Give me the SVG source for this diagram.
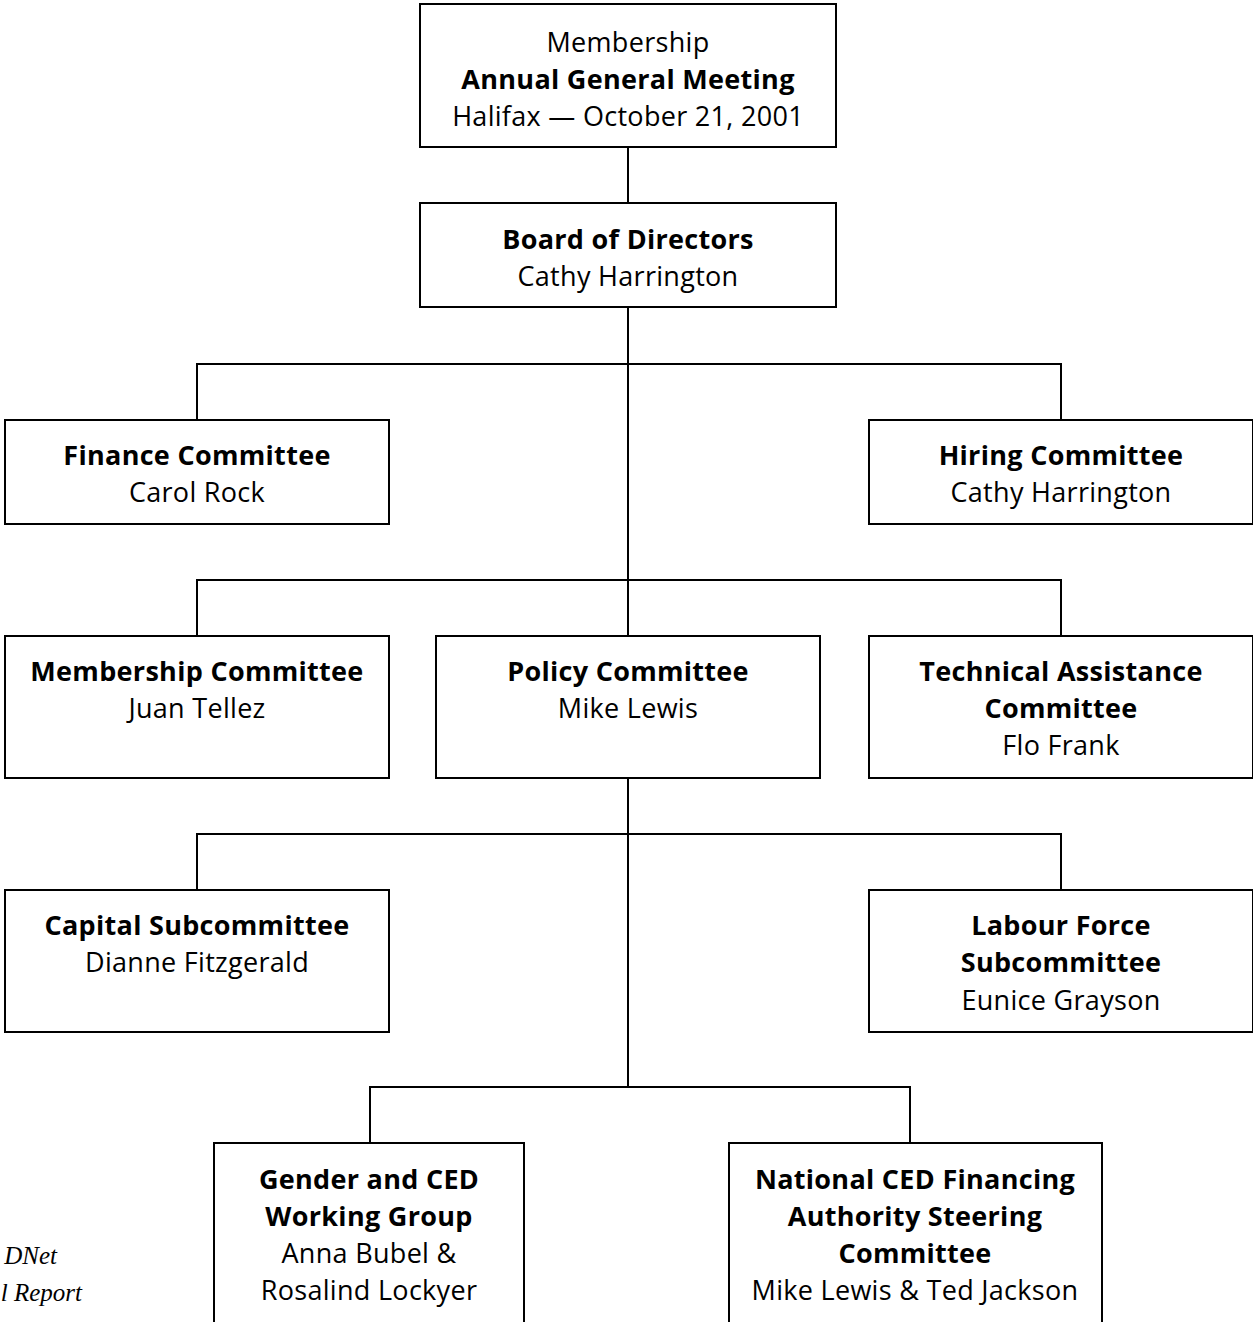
<svg xmlns="http://www.w3.org/2000/svg" width="1253" height="1322" viewBox="0 0 1253 1322">
<style>
.box{fill:#fff;stroke:#000;stroke-width:2}
.ln{stroke:#000;stroke-width:2;fill:none}
text{font-family:"Open Sans","Noto Sans",sans-serif;font-size:27px;letter-spacing:0.3px;text-anchor:middle;fill:#000}
.b{font-weight:bold}
.it{font-family:"Liberation Serif",serif;font-style:italic;font-size:25px;letter-spacing:0;text-anchor:end}
</style>
<rect width="1253" height="1322" fill="#fff"/>
<g id="connectors">
<path class="ln" d="M628 147V203M628 307V1087M197 420V364H1061V420M197 636V580H1061V636M197 890V834H1061V890M370 1143V1087H910V1143"/>
</g>
<g id="agm"><rect class="box" x="420" y="4" width="416" height="143"/>
<text x="628" y="52">Membership</text><text class="b" x="628" y="89">Annual General Meeting</text><text x="628" y="126">Halifax — October 21, 2001</text></g>
<g id="board"><rect class="box" x="420" y="203" width="416" height="104"/>
<text class="b" x="628" y="249">Board of Directors</text><text x="628" y="286">Cathy Harrington</text></g>
<g id="finance"><rect class="box" x="5" y="420" width="384" height="104"/>
<text class="b" x="197" y="465">Finance Committee</text><text x="197" y="502">Carol Rock</text></g>
<g id="hiring"><rect class="box" x="869" y="420" width="384" height="104"/>
<text class="b" x="1061" y="465">Hiring Committee</text><text x="1061" y="502">Cathy Harrington</text></g>
<g id="membership"><rect class="box" x="5" y="636" width="384" height="142"/>
<text class="b" x="197" y="681">Membership Committee</text><text x="197" y="718">Juan Tellez</text></g>
<g id="policy"><rect class="box" x="436" y="636" width="384" height="142"/>
<text class="b" x="628" y="681">Policy Committee</text><text x="628" y="718">Mike Lewis</text></g>
<g id="technical"><rect class="box" x="869" y="636" width="384" height="142"/>
<text class="b" x="1061" y="681">Technical Assistance</text><text class="b" x="1061" y="718">Committee</text><text x="1061" y="755">Flo Frank</text></g>
<g id="capital"><rect class="box" x="5" y="890" width="384" height="142"/>
<text class="b" x="197" y="935">Capital Subcommittee</text><text x="197" y="972">Dianne Fitzgerald</text></g>
<g id="labour"><rect class="box" x="869" y="890" width="384" height="142"/>
<text class="b" x="1061" y="935">Labour Force</text><text class="b" x="1061" y="972">Subcommittee</text><text x="1061" y="1010">Eunice Grayson</text></g>
<g id="gender"><rect class="box" x="214" y="1143" width="310" height="200"/>
<text class="b" x="369" y="1189">Gender and CED</text><text class="b" x="369" y="1226">Working Group</text><text x="369" y="1263">Anna Bubel &amp;</text><text x="369" y="1300">Rosalind Lockyer</text></g>
<g id="national"><rect class="box" x="729" y="1143" width="373" height="200"/>
<text class="b" x="915" y="1189">National CED Financing</text><text class="b" x="915" y="1226">Authority Steering</text><text class="b" x="915" y="1263">Committee</text><text x="915" y="1300">Mike Lewis &amp; Ted Jackson</text></g>
<g id="footer"><text class="it" x="57" y="1264">DNet</text><text class="it" x="82" y="1301">l Report</text></g>
</svg>
